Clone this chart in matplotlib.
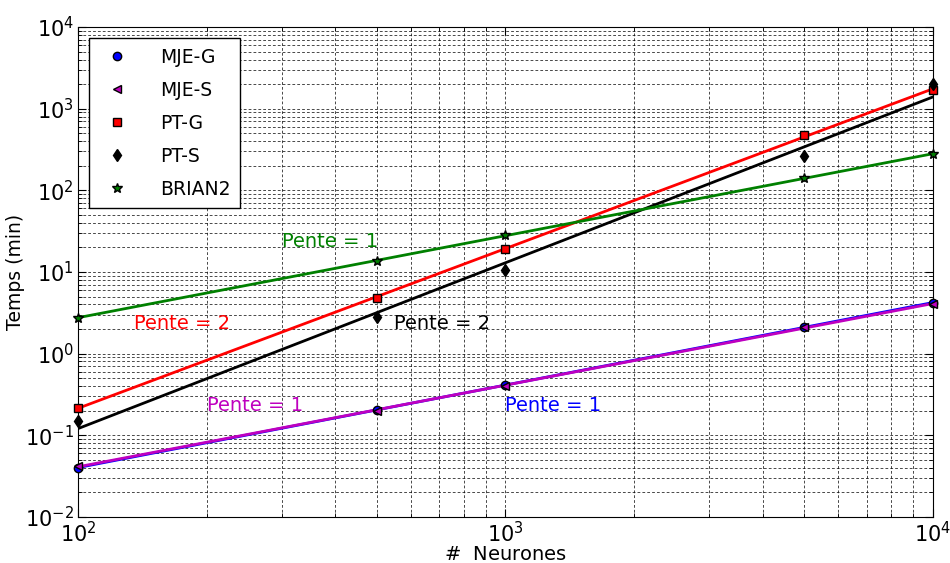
import numpy as np
import matplotlib
matplotlib.use("Agg")
import matplotlib.pyplot as plt

neurones = [100, 500, 1000, 5000, 10000]
mje_g = [0.040, 0.205, 0.41, 2.1, 4.2]
mje_s = [0.042, 0.20, 0.40, 2.1, 4.1]
pt_g = [0.216, 4.85, 19.1, 476, 1694]
pt_s = [0.15, 2.79, 10.6, 263, 2000]
brian2 = [2.75, 13.6, 28.4, 140, 279]

labels = ["MJE-G", "MJE-S", "PT-G", "PT-S", "BRIAN2"]
series = [mje_g, mje_s, pt_g, pt_s, brian2]
colors = ["b", "m", "r", "k", "g"]
markers = ["o", "<", "s", "d", "*"]

# slope annotations: (x, y, text, colour)
annots = [(300, 20, "Pente = 1", "g"),
          (135, 2, "Pente = 2", "r"),
          (550, 2, "Pente = 2", "k"),
          (200, 0.2, "Pente = 1", "m"),
          (1000, 0.2, "Pente = 1", "b")]

fig = plt.figure(figsize=(9.5, 5.63), dpi=100)
ax = fig.add_axes([0.082, 0.082, 0.9, 0.87])

x = np.array(neurones, dtype=float)
lx = np.log10(x)
xfit = np.array([100.0, 10000.0])
# fitted lines first (blue under magenta)
for vals, c in zip(series, colors):
    p = np.polyfit(lx, np.log10(vals), 1)
    ax.plot(xfit, 10 ** np.polyval(p, np.log10(xfit)), '-', color=c, lw=2)
for vals, c, m, lab in zip(series, colors, markers, labels):
    ms = 7 if m == "*" else 6
    ax.plot(x, vals, m, color=c, mec='k', ms=ms, ls='none', label=lab,
            clip_on=False, zorder=5)

for tx, ty, t, c in annots:
    ax.text(tx, ty, t, color=c, fontsize=14)

ax.set_xscale('log')
ax.set_yscale('log')
ax.set_xlim(100, 10000)
ax.set_ylim(1e-2, 1e4)
ax.grid(which='both', color='k', linestyle=(0, (4, 3)), linewidth=0.5)
ax.tick_params(which='both', direction='in', top=True, right=True)
ax.tick_params(which='major', length=6, labelsize=15, pad=3)
ax.tick_params(which='minor', length=3)
ax.set_xlabel(r"$\#$  Neurones", fontsize=14, labelpad=-1)
ax.set_ylabel("Temps (min)", fontsize=13.5, labelpad=0)

leg = ax.legend(loc='upper left', numpoints=1, fontsize=13.5, fancybox=False,
                framealpha=1, edgecolor='k', handletextpad=1.3,
                borderpad=0.5, labelspacing=0.75, borderaxespad=0.6)
leg.get_frame().set_linewidth(1)

fig.savefig("out.png", dpi=100, facecolor='white')
